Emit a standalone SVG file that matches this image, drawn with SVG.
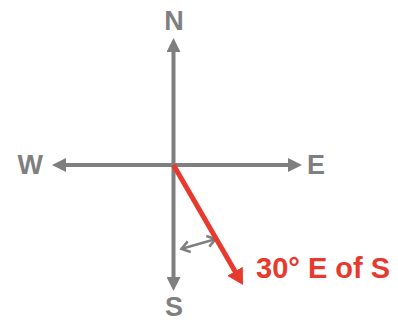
<svg xmlns="http://www.w3.org/2000/svg" width="398" height="322" viewBox="0 0 398 322">
<defs>
<style>
.axis{stroke:#7f7f7f;stroke-width:4;fill:none}
.vec{stroke:#e8392e;stroke-width:5;fill:none}
.ang{stroke:#7f7f7f;stroke-width:2.5;fill:none}
.lbl{font-family:"Liberation Sans",Arial,sans-serif;font-weight:bold;font-size:27px;fill:#7f7f7f}
.red{font-family:"Liberation Sans",Arial,sans-serif;font-weight:bold;font-size:29px;fill:#e8392e}
</style>
<marker id="gh" viewBox="0 0 14 14" refX="2" refY="7" markerUnits="userSpaceOnUse" markerWidth="14" markerHeight="14" orient="auto-start-reverse">
<path d="M0,0 L14,7 L0,14 z" fill="#7f7f7f"/>
</marker>
<marker id="rh" viewBox="0 0 16 18" refX="2" refY="9" markerUnits="userSpaceOnUse" markerWidth="16" markerHeight="18" orient="auto">
<path d="M0,0 L16,9 L0,18 z" fill="#e8392e"/>
</marker>
<marker id="ch" viewBox="0 0 14 14" refX="11.5" refY="7" markerUnits="userSpaceOnUse" markerWidth="14" markerHeight="14" orient="auto-start-reverse">
<path d="M3,1.5 L11,7 L3,12.5" stroke="#7f7f7f" stroke-width="2.5" fill="none" stroke-linejoin="miter"/>
</marker>
</defs>
<g id="connectors">
<line id="ns-axis" class="axis" x1="173.5" y1="50" x2="173.5" y2="279" marker-start="url(#gh)" marker-end="url(#gh)"/>
<line id="we-axis" class="axis" x1="64" y1="165" x2="290" y2="165" marker-start="url(#gh)" marker-end="url(#gh)"/>
<line id="angle" class="ang" x1="181" y1="249" x2="216" y2="239" marker-start="url(#ch)" marker-end="url(#ch)"/>
<line id="vector" class="vec" x1="173.5" y1="165" x2="236" y2="273" marker-end="url(#rh)"/>
</g>
<g id="N"><text class="lbl" x="174" y="30" text-anchor="middle">N</text></g>
<g id="S"><text class="lbl" x="174" y="316" text-anchor="middle">S</text></g>
<g id="W"><text class="lbl" x="43" y="174" text-anchor="end">W</text></g>
<g id="E"><text class="lbl" x="307" y="174">E</text></g>
<g id="label"><text class="red" x="256" y="278">30° E of S</text></g>
</svg>
